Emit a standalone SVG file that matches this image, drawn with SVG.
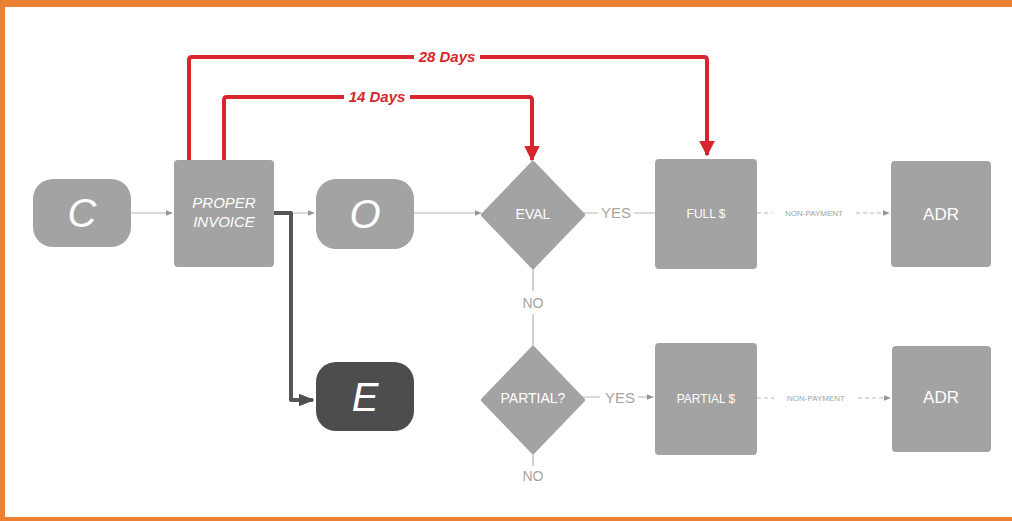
<svg xmlns="http://www.w3.org/2000/svg" width="1012" height="521" viewBox="0 0 1012 521">
<defs>
<style>
.box{fill:#a3a3a3}
.dark{fill:#4d4d4d}
.lbl{font-family:"Liberation Sans",Arial,sans-serif;fill:#ffffff;text-anchor:middle}
.big{font-size:40px;font-style:italic;font-weight:300}
.mid{font-size:17px}
.it{font-size:15px;font-style:italic}
.thin{stroke:#b9b3b0;stroke-width:1.2;fill:none}
.dash{stroke:#b9b3b0;stroke-width:1.2;fill:none;stroke-dasharray:4 3}
.red{stroke:#d8262e;stroke-width:4;fill:none;stroke-linejoin:round}
.gtxt{font-family:"Liberation Sans",Arial,sans-serif;fill:#a8a3a0;text-anchor:middle}
.rtxt{font-family:"Liberation Sans",Arial,sans-serif;fill:#d8262e;font-weight:bold;font-style:italic;font-size:15px;text-anchor:middle}
</style>
<marker id="ah" viewBox="0 0 10 10" refX="9" refY="5" markerWidth="6" markerHeight="6" orient="auto"><path d="M0,1 L10,5 L0,9 z" fill="#9a9490"/></marker>
<marker id="ahr" viewBox="0 0 10 10" refX="9" refY="5" markerWidth="4" markerHeight="4" orient="auto"><path d="M0,0 L10,5 L0,10 z" fill="#d8262e"/></marker>
<marker id="ahd" viewBox="0 0 10 10" refX="9" refY="5" markerWidth="4" markerHeight="4" orient="auto"><path d="M0,1 L10,5 L0,9 z" fill="#4d4d4d"/></marker>
</defs>
<rect x="0" y="0" width="1012" height="521" fill="#ffffff"/>
<rect x="0" y="0" width="1012" height="7" fill="#ec8034"/>
<rect x="0" y="0" width="5" height="521" fill="#ec8034"/>
<rect x="0" y="517" width="1012" height="4" fill="#ec8034"/>

<g id="connectors">
<path class="thin" d="M131,213 H172" marker-end="url(#ah)"/>
<path class="thin" d="M274,213 H314" marker-end="url(#ah)"/>
<path class="thin" d="M414,213 H481" marker-end="url(#ah)"/>
<path class="thin" d="M583,213 H598 M634,213 H655"/>
<path class="dash" d="M757,213 H772 M856,213 H889" marker-end="url(#ah)"/>
<path class="thin" d="M533,267 V291 M533,314 V348"/>
<path class="thin" d="M583,397 H600 M638,397 H653" marker-end="url(#ah)"/>
<path class="dash" d="M757,398 H774 M858,398 H890" marker-end="url(#ah)"/>
<path class="thin" d="M533,452 V466"/>
<path d="M274,213 H291 V400 H313" stroke="#555555" stroke-width="4" fill="none" stroke-linejoin="round" marker-end="url(#ahd)"/>
<path class="red" d="M189,160 V60 Q189,57 192,57 H704 Q707,57 707,60 V155" marker-end="url(#ahr)"/>
<path class="red" d="M224,160 V100 Q224,97 227,97 H529 Q532,97 532,100 V160" marker-end="url(#ahr)"/>
<rect x="414" y="49" width="66" height="16" fill="#ffffff"/>
<text class="rtxt" x="447" y="62">28 Days</text>
<rect x="344" y="89" width="66" height="16" fill="#ffffff"/>
<text class="rtxt" x="377" y="102">14 Days</text>
<text class="gtxt" x="616" y="218" font-size="15">YES</text>
<text class="gtxt" x="814" y="216" font-size="8">NON-PAYMENT</text>
<text class="gtxt" x="533" y="308" font-size="14">NO</text>
<text class="gtxt" x="620" y="403" font-size="15">YES</text>
<text class="gtxt" x="816" y="401" font-size="8">NON-PAYMENT</text>
<text class="gtxt" x="533" y="481" font-size="14">NO</text>
</g>

<g id="node-c">
<rect class="box" x="33" y="179" width="98" height="68" rx="20"/>
<text class="lbl big" x="82" y="227">C</text>
</g>
<g id="node-proper-invoice">
<rect class="box" x="174" y="160" width="100" height="107" rx="4"/>
<text class="lbl it" x="224" y="208">PROPER</text>
<text class="lbl it" x="224" y="227">INVOICE</text>
</g>
<g id="node-o">
<rect class="box" x="316" y="179" width="98" height="70" rx="20"/>
<text class="lbl big" x="365" y="228">O</text>
</g>
<g id="node-eval">
<path class="box" d="M533,163 L583,215 L533,267 L483,215 Z" stroke="#a3a3a3" stroke-width="4" stroke-linejoin="round"/>
<text class="lbl" x="533" y="219" font-size="14">EVAL</text>
</g>
<g id="node-full">
<rect class="box" x="655" y="159" width="102" height="110" rx="4"/>
<text class="lbl" x="706" y="218" font-size="12">FULL $</text>
</g>
<g id="node-adr1">
<rect class="box" x="891" y="161" width="100" height="106" rx="4"/>
<text class="lbl mid" x="941" y="220">ADR</text>
</g>
<g id="node-e">
<rect class="dark" x="316" y="362" width="98" height="69" rx="20"/>
<text class="lbl big" x="365" y="411">E</text>
</g>
<g id="node-partial">
<path class="box" d="M533,348 L583,400 L533,452 L483,400 Z" stroke="#a3a3a3" stroke-width="4" stroke-linejoin="round"/>
<text class="lbl" x="533" y="403" font-size="14">PARTIAL?</text>
</g>
<g id="node-partial-amt">
<rect class="box" x="655" y="343" width="102" height="112" rx="4"/>
<text class="lbl" x="706" y="403" font-size="12">PARTIAL $</text>
</g>
<g id="node-adr2">
<rect class="box" x="892" y="346" width="99" height="106" rx="4"/>
<text class="lbl mid" x="941" y="403">ADR</text>
</g>
</svg>
